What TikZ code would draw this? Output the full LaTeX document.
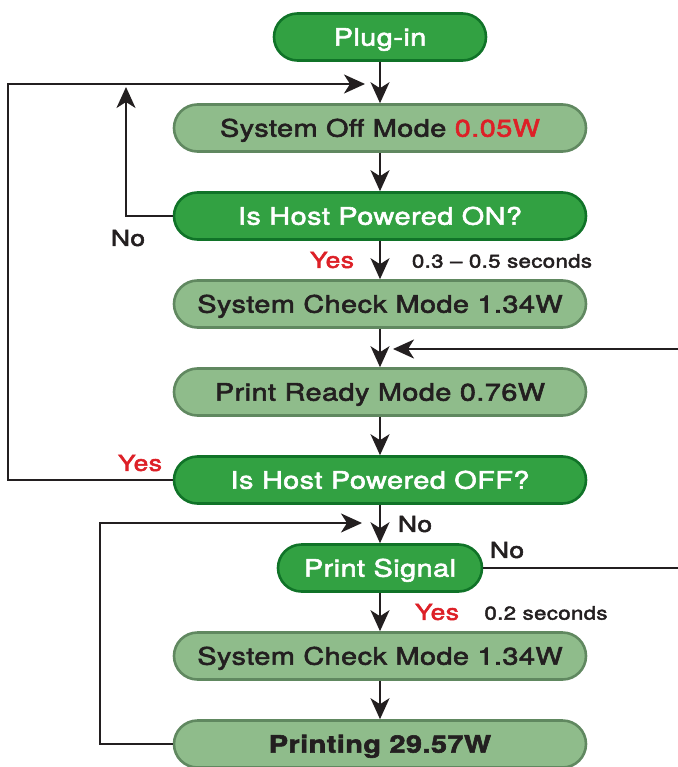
\documentclass[tikz,border=0pt]{standalone}
\usepackage{fontspec}
\setmainfont{TeX Gyre Heros}[FakeStretch=1.2, LetterSpace=2, FakeBold=2.5]
\usetikzlibrary{arrows.meta}

\definecolor{darkgreen}{RGB}{50,161,66}
\definecolor{darkedge}{RGB}{16,115,40}
\definecolor{lightgreen}{RGB}{143,188,139}
\definecolor{lightedge}{RGB}{96,136,96}
\definecolor{yesred}{RGB}{221,32,39}
\definecolor{inkgrey}{RGB}{35,31,32}

\tikzset{
  modebox/.style={line width=2.6pt, rounded corners=23.5pt, minimum height=47pt,
    minimum width=412pt, inner sep=0pt, text height=17.3pt, text depth=0pt,
    font=\fontsize{24}{28}\selectfont},
  darkbox/.style={modebox, draw=darkedge, fill=darkgreen, text=white},
  lightbox/.style={modebox, draw=lightedge, fill=lightgreen, text=inkgrey},
  flow/.style={-{Stealth[length=21pt,width=19pt,inset=6pt]}, line width=1.9pt, draw=inkgrey},
  tag/.style={inner sep=0pt, text=inkgrey, font=\fontsize{22}{26}\selectfont},
  note/.style={inner sep=0pt, text=inkgrey, font=\fontsize{18.5}{22}\selectfont}
}

\begin{document}
\begin{tikzpicture}[x=1pt,y=-1pt]
    \useasboundingbox (0,0) rectangle (677,767);

    \node[darkbox, minimum width=212pt] (plug) at (380,37) {Plug-in};
    \node[lightbox] (off) at (380,128) {System Off Mode \textcolor{yesred}{0.05W}};
    \node[darkbox] (hoston) at (380,216) {Is Host Powered ON?};
    \node[lightbox] (check) at (380,304) {System Check Mode 1.34W};
    \node[lightbox] (ready) at (380,392) {Print Ready Mode 0.76W};
    \node[darkbox] (hostoff) at (380,480) {Is Host Powered OFF?};
    \node[darkbox, minimum width=204pt] (signal) at (380,568) {Print Signal};
    \node[lightbox] (checktwo) at (380,656) {System Check Mode 1.34W};
    \node[lightbox] (printing) at (380,744) {\bfseries Printing 29.57W};

    % main line
    \draw[flow] (plug) -- (off);
    \draw[flow] (off) -- (hoston);
    \draw[flow] (hoston) -- (check);
    \draw[flow] (check) -- (ready);
    \draw[flow] (ready) -- (hostoff);
    \draw[flow] (hostoff) -- (signal);
    \draw[flow] (signal) -- (checktwo);
    \draw[flow] (checktwo) -- (printing);

    % loops
    \coordinate (ontip) at (126,87);
    \coordinate (outer) at (8,84);
    \coordinate (offin) at (365,84);
    \coordinate (rightside) at (682,349);
    \coordinate (readyin) at (393,349);
    \coordinate (lowleft) at (100,523);
    \coordinate (signalin) at (362,523);
    \draw[flow] (hoston.west) -| (ontip);
    \draw[flow] (hostoff.west) -| (outer) -- (offin);
    \draw[flow] (signal.east) -| (rightside) -- (readyin);
    \draw[flow] (printing.west) -| (lowleft) -- (signalin);

    % labels
    \node[tag] (noon) at (128,238) {No};
    \node[tag, text=yesred] (yeson) at (332,260) {Yes};
    \node[note] (waitone) at (502,261) {0.3 – 0.5 seconds};
    \node[tag, text=yesred] (yesoff) at (140,463) {Yes};
    \node[tag] (nooff) at (415,524) {No};
    \node[tag] (nosignal) at (507,550) {No};
    \node[tag, text=yesred] (yessignal) at (437,612) {Yes};
    \node[note] (waittwo) at (546,613) {0.2 seconds};
\end{tikzpicture}
\end{document}
